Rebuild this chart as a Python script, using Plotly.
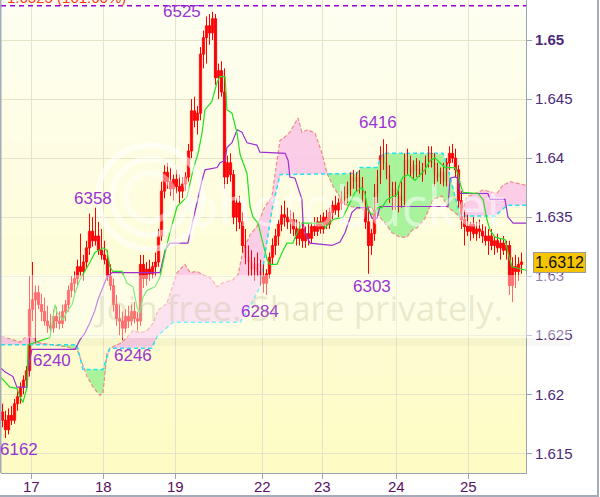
import numpy as np
import plotly.graph_objects as go

# ---------------- data (prices in pips: 1.6xxx -> xxxx) ----------------
O = [6185,6178,6170,6182,6178,6192,6198,6206,6212,6220,
     6272,6280,6286,6276,6270,6262,6258,6256,6266,6262,
     6260,6270,6276,6288,6294,6298,6308,6304,6312,6324,
     6338,6330,6334,6322,6318,6314,6300,6292,6276,6264,
     6262,6256,6266,6262,6270,6264,6262,6310,6298,6306,
     6302,6308,6312,6334,6372,6388,6380,6374,6382,6376,
     6372,6378,6384,6406,6440,6432,6438,6488,6502,6512,
     6506,6518,6468,6474,6456,6384,6396,6386,6350,6362,
     6346,6326,6316,6312,6306,6310,6304,6300,6294,6302,
     6316,6326,6334,6344,6352,6350,6346,6348,6340,6332,
     6340,6330,6336,6332,6342,6338,6346,6340,6350,6344,
     6354,6360,6356,6362,6366,6370,6374,6384,6380,6384,
     6376,6366,6346,6326,6336,6370,6384,6402,6396,6386,
     6368,6374,6360,6368,6364,6398,6392,6388,6394,6390,
     6386,6392,6398,6404,6396,6386,6384,6388,6380,6396,
     6404,6400,6390,6364,6348,6342,6338,6344,6336,6340,
     6338,6334,6330,6334,6326,6330,6324,6328,6322,6326,
     6292,6308,6304,6310]
H = [6192,6186,6188,6190,6196,6203,6210,6216,6224,6300,
     6312,6292,6292,6285,6282,6275,6268,6272,6274,6270,
     6276,6280,6292,6300,6304,6314,6336,6318,6330,6353,
     6350,6358,6346,6340,6330,6322,6310,6298,6284,6276,
     6270,6272,6275,6276,6278,6270,6318,6318,6312,6314,
     6312,6320,6340,6380,6394,6396,6392,6386,6390,6386,
     6384,6388,6412,6450,6452,6444,6494,6508,6520,6522,
     6524,6522,6480,6482,6476,6402,6404,6390,6366,6368,
     6354,6340,6326,6322,6316,6320,6314,6310,6306,6320,
     6332,6340,6348,6360,6364,6358,6356,6354,6348,6346,
     6346,6342,6344,6346,6350,6350,6352,6354,6356,6358,
     6364,6368,6366,6372,6376,6380,6388,6390,6388,6390,
     6384,6372,6358,6340,6378,6390,6410,6416,6412,6394,
     6380,6380,6376,6380,6404,6408,6402,6398,6400,6398,
     6396,6402,6410,6410,6404,6396,6392,6396,6400,6410,
     6412,6408,6394,6372,6356,6352,6346,6350,6346,6348,
     6344,6342,6340,6340,6334,6336,6332,6334,6330,6330,
     6316,6318,6316,6320]
L = [6172,6163,6166,6174,6175,6186,6192,6200,6205,6215,
     6262,6243,6272,6262,6258,6252,6250,6252,6256,6255,
     6256,6262,6270,6282,6286,6292,6300,6296,6306,6318,
     6325,6326,6318,6314,6310,6296,6288,6270,6258,6250,
     6246,6252,6256,6258,6260,6254,6258,6290,6292,6296,
     6298,6300,6308,6330,6366,6374,6368,6364,6370,6362,
     6366,6372,6380,6400,6426,6420,6432,6476,6480,6496,
     6500,6462,6450,6452,6374,6378,6380,6344,6338,6340,
     6320,6310,6300,6300,6296,6300,6292,6286,6284,6298,
     6310,6318,6326,6338,6342,6340,6336,6334,6326,6326,
     6324,6324,6326,6328,6334,6334,6336,6336,6340,6340,
     6348,6352,6350,6356,6360,6362,6368,6374,6372,6370,
     6362,6340,6302,6318,6330,6362,6378,6390,6382,6362,
     6356,6356,6354,6358,6360,6386,6384,6382,6384,6384,
     6380,6386,6392,6392,6376,6380,6378,6376,6376,6390,
     6396,6384,6358,6340,6326,6334,6330,6332,6330,6332,
     6328,6326,6318,6322,6318,6320,6314,6318,6314,6284,
     6278,6290,6296,6302]
C = [6178,6170,6182,6178,6192,6198,6206,6212,6220,6272,
     6280,6286,6276,6270,6262,6258,6256,6266,6262,6260,
     6270,6276,6288,6294,6298,6308,6304,6312,6324,6338,
     6330,6334,6322,6318,6314,6300,6292,6276,6264,6262,
     6256,6266,6262,6270,6264,6262,6310,6298,6306,6302,
     6308,6312,6334,6372,6388,6380,6374,6382,6376,6372,
     6378,6384,6406,6440,6432,6438,6488,6502,6512,6506,
     6518,6468,6474,6456,6384,6396,6386,6350,6362,6346,
     6326,6316,6312,6306,6310,6304,6300,6294,6302,6316,
     6326,6334,6344,6352,6350,6346,6348,6340,6332,6340,
     6330,6336,6332,6342,6338,6346,6340,6350,6344,6354,
     6360,6356,6362,6366,6370,6374,6384,6380,6384,6376,
     6366,6346,6326,6336,6370,6384,6402,6396,6386,6368,
     6374,6360,6368,6364,6398,6392,6388,6394,6390,6386,
     6392,6398,6404,6396,6386,6384,6388,6380,6396,6404,
     6400,6390,6364,6348,6342,6338,6344,6336,6340,6338,
     6334,6330,6334,6326,6330,6324,6328,6322,6326,6292,
     6308,6304,6310,6312]

# Ichimoku lines (bar position, pips)
tenkan_x = [-0.5,2.5,4.8,5.8,6.8,8.2,8.5,9.8,15.8,17.5,18.2,20.2,21.5,23.2,24.2,25.8,27.5,29.2,30.8,33.5,
            34.8,35.8,36.8,39.8,41.5,43.5,44.8,45.8,46.8,48.2,50.8,52.5,54.2,55.8,58.2,61.5,63.5,65.2,66.5,67.5,
            69.8,71.5,72.5,74.2,74.8,76.5,78.2,79.2,81.5,82.5,83.5,85.2,86.5,88.2,89.2,91.5,93.2,94.8,96.8,98.2,
            99.8,106.5,107.5,110.2,113.5,115.2,117.5,119.8,120.8,121.8,123.2,125.2,126.5,128.2,129.8,131.5,132.5,133.5,135.2,137.5,
            138.5,140.8,142.5,144.2,145.8,147.5,150.8,151.8,152.5,153.5,158.5,160.2,161.5,162.5,164.2,167.5,168.5,169.8,174.5]
tenkan_y = [6214,6206,6205,6198,6193,6206,6242,6243,6248,6276,6269,6263,6270,6276,6286,6297,6304,6312,6320,6324,
            6322,6308,6304,6304,6294,6291,6274,6269,6282,6288,6291,6299,6320,6337,6359,6367,6390,6404,6421,6441,
            6448,6464,6469,6469,6441,6438,6421,6403,6387,6359,6350,6345,6331,6314,6310,6310,6320,6328,6328,6337,
            6345,6345,6341,6348,6350,6359,6371,6375,6370,6356,6352,6358,6358,6365,6367,6369,6379,6384,6386,6381,
            6384,6390,6398,6400,6396,6392,6392,6387,6379,6371,6370,6365,6348,6339,6333,6331,6320,6308,6305]
kijun_x = [-0.5,0.8,3.5,4.8,8.2,8.5,9.8,24.2,25.8,27.5,29.2,30.8,31.8,33.5,34.8,36.5,52.5,54.2,55.8,61.8,
           64.2,66.5,67.5,71.5,72.5,74.2,74.8,76.5,78.2,79.8,81.5,84.8,85.8,94.2,95.2,95.8,97.5,99.8,100.2,100.8,
           102.5,109.8,112.5,114.2,116.5,118.2,121.8,123.2,124.8,125.8,148.5,149.2,150.8,151.8,152.5,161.8,162.5,167.5,168.5,170.2,174.5]
kijun_y = [6222,6219,6215,6206,6206,6221,6238,6238,6246,6252,6261,6271,6280,6291,6299,6303,6303,6322,6328,6328,
           6356,6381,6390,6392,6396,6398,6409,6413,6424,6422,6413,6411,6405,6404,6398,6384,6383,6365,6345,6337,
           6328,6326,6329,6337,6354,6358,6358,6349,6349,6359,6359,6383,6384,6383,6370,6370,6365,6365,6350,6345,6345]
span_a_x = [-0.5,2.5,5.8,7.5,9.8,11.5,13.5,16.8,21.5,24.8,26.5,28.2,30.2,32.5,33.5,34.8,35.8,39.2,41.5,43.5,
            45.8,48.2,50.2,51.8,54.8,56.5,58.2,60.8,62.5,64.8,66.8,69.2,71.5,73.2,76.8,78.5,80.2,82.5,84.8,87.5,
            89.8,91.5,92.5,94.2,95.8,98.5,99.8,101.8,104.2,106.5,108.2,110.2,111.5,113.5,115.8,118.2,120.2,121.8,124.2,125.8,
            127.5,129.8,132.5,134.8,136.5,138.2,140.8,143.5,146.5,148.5,150.8,152.5,154.8,160.2,164.8,166.8,169.2,174.5]
span_a_y = [6249,6247,6244,6248,6249,6244,6243,6242,6240,6238,6227,6215,6206,6199,6201,6235,6239,6243,6248,6254,
            6252,6254,6260,6271,6277,6291,6303,6310,6303,6304,6301,6299,6291,6294,6297,6301,6322,6335,6342,6359,
            6367,6398,6415,6418,6422,6434,6422,6424,6421,6404,6387,6376,6371,6362,6359,6358,6356,6359,6356,6350,
            6345,6337,6333,6333,6339,6341,6349,6365,6368,6358,6354,6350,6367,6373,6370,6377,6380,6377]
span_b_x = [-0.5,24.8,26.8,33.5,35.8,49.8,51.5,55.8,56.8,79.2,82.5,85.8,89.8,92.5,118.2,119.2,124.8,126.8,146.8,148.2,
            150.8,152.5,164.2,166.5,168.2,174.5]
span_b_y = [6242,6242,6221,6221,6239,6239,6249,6259,6261,6261,6274,6291,6356,6386,6387,6392,6392,6404,6404,6394,
            6369,6351,6351,6356,6360,6360]

day_pos = [9.5, 33.8, 57.7, 86.8, 106.8, 131.2, 155.3]
day_lbl = ["17", "18", "19", "22", "23", "24", "25"]
y_ticks = [1.615, 1.62, 1.625, 1.63, 1.635, 1.64, 1.645, 1.65]
y_lbls = ["1.615", "1.62", "1.625", "1.63", "1.635", "1.64", "1.645", "<b>1.65</b>"]

swing_lbl = ["6525", "6358", "6240", "6162", "6246", "6284", "6303", "6416"]
swing_x = [59.8, 30.2, 16.5, 5.5, 43.5, 85.8, 123.2, 125.2]
swing_y = [6524, 6366, 6229, 6153, 6233, 6270, 6291, 6430]

fib_level = 1.6529
fib_text = "1.6525 (101.60%)"
last_price = 1.6312

# ---------------------------------------------------------------------
def pr(v):
    return [1 + a / 10000.0 for a in v]

YMIN, YMAX = 1.613332, 1.653387
XMIN, XMAX = -0.5, 174.5

def pxx(p):  # pixel x -> data x (decor only)
    return (p - 2.5) / 3.0

def pyy(p):  # pixel y -> data y (decor only)
    return 1.65 + (40 - p) / 11810.0

idx = list(range(len(C)))
fig = go.Figure()

# cloud fills
grid = np.linspace(XMIN, XMAX, 2501)
a = np.interp(grid, span_a_x, span_a_y)
b = np.interp(grid, span_b_x, span_b_y)
hi = np.maximum(a, b)
fig.add_trace(go.Scatter(x=grid, y=pr(b), mode="lines", line=dict(width=0), hoverinfo="skip"))
fig.add_trace(go.Scatter(x=grid, y=pr(hi), mode="lines", line=dict(width=0), fill="tonexty",
                         fillcolor="rgba(250,196,232,0.85)", hoverinfo="skip"))
fig.add_trace(go.Scatter(x=grid, y=pr(a), mode="lines", line=dict(width=0), hoverinfo="skip"))
fig.add_trace(go.Scatter(x=grid, y=pr(hi), mode="lines", line=dict(width=0), fill="tonexty",
                         fillcolor="rgba(160,242,150,0.9)", hoverinfo="skip"))
fig.add_trace(go.Scatter(x=span_a_x, y=pr(span_a_y), mode="lines",
                         line=dict(color="#f08a8a", width=1.2, dash="4px,2px"), hoverinfo="skip"))
fig.add_trace(go.Scatter(x=span_b_x, y=pr(span_b_y), mode="lines",
                         line=dict(color="#22e2f2", width=1.5, dash="4px,3px"), hoverinfo="skip"))

# candles: wicks + bodies
wx, wy = [], []
for i in idx:
    wx += [i, i, None]
    wy += [1 + L[i] / 10000.0, 1 + H[i] / 10000.0, None]
fig.add_trace(go.Scatter(x=wx, y=wy, mode="lines", line=dict(color="#ff0000", width=1),
                         hoverinfo="skip"))
body_base = [1 + min(o, c) / 10000.0 for o, c in zip(O, C)]
body_len = [max(abs(c - o), 0.6) / 10000.0 for o, c in zip(O, C)]
body_fill = ["#6f5ad0" if c < o else "rgba(255,225,225,0.45)" for o, c in zip(O, C)]
fig.add_trace(go.Bar(x=idx, y=body_len, base=body_base, width=0.75,
                     marker=dict(color=body_fill, line=dict(color="#ff0000", width=1)),
                     hoverinfo="skip"))

fig.add_trace(go.Scatter(x=kijun_x, y=pr(kijun_y), mode="lines",
                         line=dict(color="#9b30d0", width=1.2), hoverinfo="skip"))
fig.add_trace(go.Scatter(x=tenkan_x, y=pr(tenkan_y), mode="lines",
                         line=dict(color="#22e022", width=1.2), hoverinfo="skip"))

shapes = []
# gradient background
nb = 30
for k in range(nb):
    t = k / (nb - 1)
    g = int(round(254 - 2 * t))
    bl = int(round(242 - 46 * t))
    shapes.append(dict(type="rect", xref="paper", yref="paper", x0=0, x1=1,
                       y0=1 - (k + 1) / nb, y1=1 - k / nb + 0.001, line=dict(width=0),
                       fillcolor=f"rgb(254,{g},{bl})", layer="below"))
# watermark circles
for rad, op in [(52, 0.55), (38, 0.5), (24, 0.45)]:
    shapes.append(dict(type="circle", xref="x", yref="y",
                       x0=pxx(150 - rad), x1=pxx(150 + rad), y0=pyy(197 + rad), y1=pyy(197 - rad),
                       line=dict(color=f"rgba(255,255,255,{op})", width=6), layer="above"))
# watermark band
shapes.append(dict(type="rect", xref="paper", yref="paper", x0=-0.01, x1=(570 - 1) / 525,
                   y0=(473 - 338) / 473, y1=(473 - 275) / 473,
                   fillcolor="rgba(255,255,255,0.42)", line=dict(width=0), layer="above"))
shapes.append(dict(type="rect", xref="paper", yref="paper", x0=-0.01, x1=(570 - 1) / 525,
                   y0=(473 - 346) / 473, y1=(473 - 338) / 473,
                   fillcolor="rgba(120,120,90,0.06)", line=dict(width=0), layer="above"))
# fib dashed line
shapes.append(dict(type="line", xref="paper", yref="y", x0=0, x1=1, y0=fib_level, y1=fib_level,
                   line=dict(color="#9400d3", width=1.3, dash="5px,4px")))
# borders
shapes.append(dict(type="line", xref="paper", yref="paper", x0=-0.001, x1=-0.001, y0=-0.0, y1=1,
                   line=dict(color="#a3acb8", width=2)))
shapes.append(dict(type="line", xref="paper", yref="paper", x0=(598 - 1) / 525, x1=(598 - 1) / 525,
                   y0=(473 - 497) / 473, y1=1, line=dict(color="#a3acb8", width=2)))
shapes.append(dict(type="line", xref="paper", yref="paper", x0=-0.01, x1=(599 - 1) / 525,
                   y0=(473 - 496) / 473, y1=(473 - 496) / 473, line=dict(color="#a3acb8", width=2)))

ann = []
for t, xx, yy in zip(swing_lbl, swing_x, swing_y):
    ann.append(dict(x=xx, y=1 + yy / 10000.0, xref="x", yref="y", text=t, showarrow=False,
                    font=dict(family="Liberation Sans, Arial", size=17, color="#9a34d2")))
# day labels (x axis)
for p, t in zip(day_pos, day_lbl):
    ann.append(dict(x=p, y=(473 - 487) / 473, xref="x", yref="paper", text=t, showarrow=False,
                    yanchor="middle", font=dict(family="Liberation Sans, Arial", size=15, color="#5a1060")))
ann.append(dict(x=4 / 525, y=(473 - 8) / 473, xref="paper", yref="paper", text=fib_text,
                xanchor="left", yanchor="bottom", showarrow=False,
                font=dict(family="Liberation Sans, Arial", size=15, color="#ff3a1a")))
ann.append(dict(x=(533 - 1) / 525, y=last_price, xref="paper", yref="y", text=f"{last_price:.4f}",
                xanchor="left", yanchor="middle", showarrow=False, bgcolor="#f6c400",
                bordercolor="#9a9a9a", borderwidth=1, borderpad=1,
                font=dict(family="Liberation Sans, Arial", size=16, color="#111111")))
ann.append(dict(x=pxx(345), y=pyy(205), xref="x", yref="y", text="photobucket", showarrow=False,
                font=dict(family="Open Sans", size=54, color="rgba(255,255,255,0.5)")))
ann.append(dict(x=(92 - 1) / 525, y=(473 - 307) / 473, xref="paper", yref="paper",
                text="Join free. Share privately.", xanchor="left", showarrow=False,
                font=dict(family="Open Sans", size=35, color="rgba(185,180,135,0.28)")))

fig.update_layout(
    width=600, height=497, margin=dict(l=1, r=74, t=0, b=24),
    paper_bgcolor="white", plot_bgcolor="#fdfde8", showlegend=False,
    shapes=shapes, annotations=ann, hovermode=False, barmode="overlay",
    xaxis=dict(range=[XMIN, XMAX], tickmode="array", tickvals=day_pos, ticktext=day_lbl,
               showticklabels=False,
               showgrid=True, gridcolor="#e4e4c8", gridwidth=1, zeroline=False,
               ticks="outside", ticklen=5, tickcolor="#9aa4ae", showline=True,
               linecolor="#9aa4ae", linewidth=1, automargin=False),
    yaxis=dict(range=[YMIN, YMAX], side="right", tickmode="array", tickvals=y_ticks, ticktext=y_lbls,
               showgrid=True, gridcolor="#e4e4c8", gridwidth=1, zeroline=False,
               ticks="outside", ticklen=5, tickcolor="#9aa4ae", showline=True,
               linecolor="#9aa4ae", linewidth=1,
               tickfont=dict(family="Liberation Sans, Arial", size=15, color="#4b2a78"),
               automargin=False),
)

fig.write_html("out.html", config={"displayModeBar": False},
               post_script="document.body.style.margin='0px';")
